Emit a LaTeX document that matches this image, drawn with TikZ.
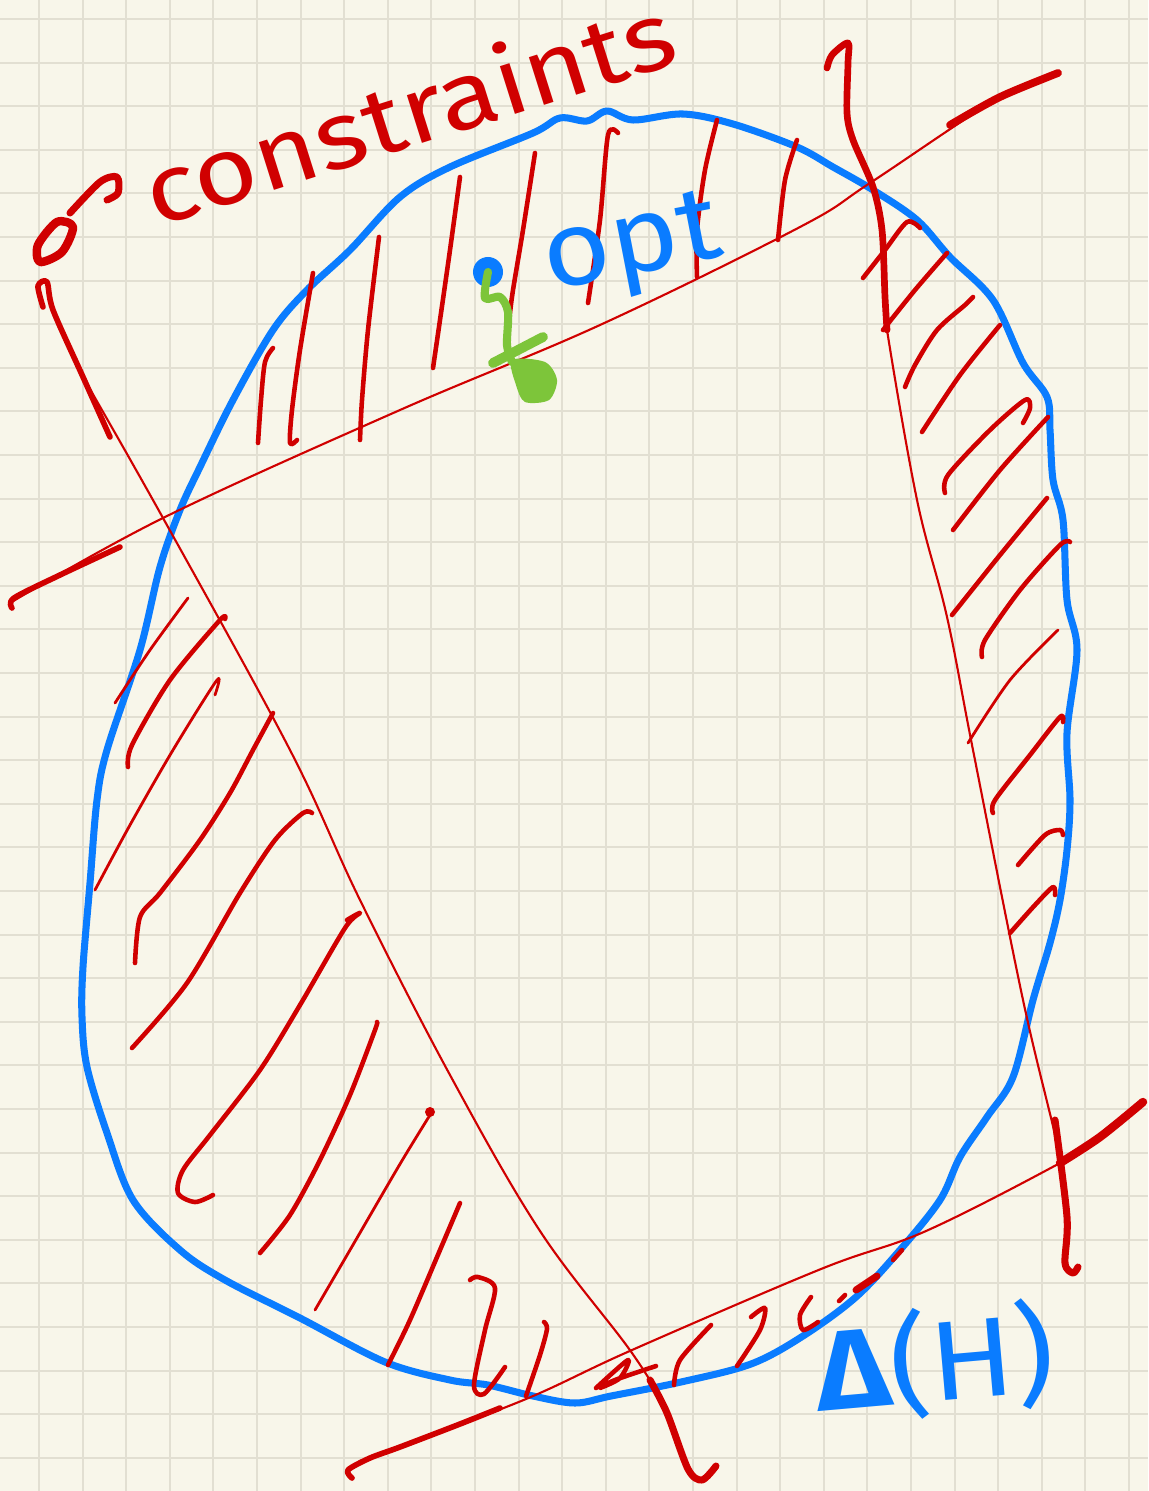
\documentclass[tikz,border=0pt]{standalone}
\usepackage{fontspec}
\newfontfamily\sketchfont{Fira Sans}
\usetikzlibrary{arrows.meta}
\definecolor{paper}{HTML}{F8F6EA}
\definecolor{gridc}{HTML}{E2DFD2}
\definecolor{inkred}{HTML}{D00000}
\definecolor{inkblue}{HTML}{0A7CFF}
\definecolor{inkgreen}{HTML}{7DC53A}

\begin{document}
\begin{tikzpicture}[x=0.01cm, y=-0.01cm,
  gridln/.style={draw=gridc, line width=0.6pt},
  rim/.style={draw=inkblue, line width=2pt, line join=round},
  cons/.style={draw=inkred, line width=0.6pt, line cap=round},
  consthick/.style={draw=inkred, line width=1.6pt, line cap=round, line join=round},
  hatch/.style={draw=inkred, line width=1.3pt, line cap=round, line join=round},
  hatchthin/.style={draw=inkred, line width=0.8pt, line cap=round, line join=round},
  lbl/.style={font=\sketchfont, inner sep=0pt}]
  % paper and squares
  \fill[paper] (0,0) rectangle (1148,1491);
  \useasboundingbox (0,0) rectangle (1148,1491);
  \foreach \i in {0,...,25} \draw[gridln] (39+43.6*\i,0) -- (39+43.6*\i,1491);
  \foreach \j in {0,...,33} \draw[gridln] (0,19+43.6*\j) -- (1148,19+43.6*\j);

  % the region Delta(H)
  \draw[rim] plot[smooth cycle, tension=0.55] coordinates {
    (400,197) (450,167) (533,133) (560,118) (587,121) (607,111) (633,120)
    (683,114) (733,124) (797,147) (833,167) (873,190) (917,220) (950,257)
    (993,300) (1023,363) (1047,397) (1050,430) (1053,480) (1063,520)
    (1067,600) (1077,650) (1067,733) (1070,800) (1067,850) (1060,900)
    (1050,943) (1033,1000) (1013,1077) (987,1117) (960,1157) (940,1200)
    (900,1250) (856,1297) (803,1336) (751,1364) (681,1382) (611,1396)
    (575,1403) (533,1396) (488,1385) (450,1380) (385,1362) (300,1318)
    (225,1280) (180,1250) (133,1200) (107,1133) (87,1067) (82,1017)
    (83,967) (90,883) (97,800) (107,750) (140,650) (160,567) (180,510)
    (200,467) (233,400) (273,330) (307,290) (350,250)};

  % constraint lines
  \draw[cons] plot[smooth, tension=0.6] coordinates {
    (10,603) (163,518) (400,410) (600,325) (800,227) (870,183) (1000,97) (1058,73)};
  \draw[consthick] plot[smooth] coordinates {(12,608) (14,598) (60,575) (120,547)};
  \draw[consthick, line width=2.2pt] plot[smooth] coordinates {(950,125) (1000,97) (1058,73)};

  \draw[cons] plot[smooth, tension=0.6] coordinates {
    (83,377) (163,518) (290,750) (360,900) (450,1075) (540,1231) (632,1353)
    (667,1413) (688,1469)};
  \draw[consthick] plot[smooth] coordinates {
    (43,307) (38,286) (47,282) (53,310) (83,377) (110,437)};
  \draw[consthick, line width=2pt] plot[smooth] coordinates {
    (650,1380) (667,1413) (688,1469) (702,1480) (716,1466)};

  \draw[cons] plot[smooth, tension=0.6] coordinates {
    (885,297) (887,330) (917,500) (947,617) (973,750) (1023,1000) (1060,1157)
    (1067,1217)};
  \draw[consthick, line width=1.9pt] plot[smooth] coordinates {
    (827,68) (832,55) (848,43) (848,63) (847,113) (853,140) (873,187)
    (882,230) (885,297) (887,330)};
  \draw[consthick, line width=2pt] plot[smooth] coordinates {
    (1055,1120) (1067,1217) (1065,1263) (1073,1273) (1078,1267)};

  \draw[cons] plot[smooth, tension=0.6] coordinates {
    (400,1447) (526,1399) (632,1350) (821,1269) (926,1231) (1060,1163) (1100,1137)};
  \draw[consthick] plot[smooth] coordinates {
    (352,1478) (348,1470) (370,1458) (400,1447) (460,1424) (500,1408)};
  \draw[consthick, line width=2.4pt] plot[smooth] coordinates {
    (1060,1163) (1100,1137) (1143,1102)};

  % hatching, top
  \draw[hatch] plot[smooth] coordinates {(273,348) (265,362) (261,400) (258,443)};
  \draw[hatch] plot[smooth] coordinates {(313,273) (300,350) (292,410) (290,443) (297,440)};
  \draw[hatch] plot[smooth] coordinates {(379,237) (368,330) (362,400) (360,440)};
  \draw[hatch] plot[smooth] coordinates {(460,177) (450,250) (440,320) (433,368)};
  \draw[hatch] plot[smooth] coordinates {(535,153) (523,230) (513,290) (510,313)};
  \draw[hatch] plot[smooth] coordinates {(618,133) (608,135) (600,220) (588,303)};
  \draw[hatch] plot[smooth] coordinates {(717,120) (705,170) (697,230) (697,277)};
  \draw[hatch] plot[smooth] coordinates {(797,140) (785,180) (778,240)};

  % hatching, right
  \draw[hatch] plot[smooth] coordinates {(863,278) (885,250) (907,222) (920,228)};
  \draw[hatch] plot[smooth] coordinates {(883,330) (915,290) (947,253)};
  \draw[hatch] plot[smooth] coordinates {(905,387) (915,365) (937,330) (965,305) (973,297)};
  \draw[hatch] plot[smooth] coordinates {(922,432) (960,375) (1000,325)};
  \draw[hatch] plot[smooth] coordinates {(945,493) (948,475) (990,430) (1025,400) (1030,408) (1023,423)};
  \draw[hatch] plot[smooth] coordinates {(953,530) (1000,470) (1048,417)};
  \draw[hatch] plot[smooth] coordinates {(952,615) (1000,555) (1047,498)};
  \draw[hatch] plot[smooth] coordinates {(982,657) (985,640) (1020,590) (1060,545) (1070,542)};
  \draw[hatchthin] plot[smooth] coordinates {(968,743) (1010,680) (1058,630)};
  \draw[hatch] plot[smooth] coordinates {(993,813) (995,800) (1030,755) (1060,717) (1063,722)};
  \draw[hatch] plot[smooth] coordinates {(1018,865) (1045,835) (1060,830) (1063,835)};
  \draw[hatch] plot[smooth] coordinates {(1010,933) (1035,905) (1053,887) (1055,895)};

  % hatching, left and bottom
  \draw[hatchthin] plot[smooth] coordinates {(115,703) (150,650) (188,598)};
  \draw[hatch] plot[smooth] coordinates {(128,767) (132,745) (170,680) (220,620) (225,619)};
  \draw[hatchthin] plot[smooth] coordinates {(95,890) (130,825) (173,750) (217,680) (215,695)};
  \draw[hatch] plot[smooth] coordinates {(135,963) (140,917) (160,893) (200,840) (230,793) (253,750) (273,713)};
  \draw[hatch] plot[smooth] coordinates {(132,1048) (187,983) (240,893) (275,840) (303,813) (312,813)};
  \draw[hatch] plot[smooth] coordinates {(213,1195) (195,1202) (178,1193) (183,1170) (210,1135) (260,1070) (300,1005) (345,928) (360,913) (347,920)};
  \draw[hatch] plot[smooth] coordinates {(260,1253) (290,1215) (320,1160) (350,1095) (375,1030) (377,1022)};
  \draw[hatchthin] plot[smooth] coordinates {(315,1310) (350,1250) (400,1164) (430,1115)};
  \fill[inkred] (430,1112) circle (5);
  \draw[hatch] plot[smooth] coordinates {(388,1365) (410,1320) (440,1250) (460,1203)};
  \draw[hatch] plot[smooth] coordinates {(470,1280) (478,1277) (495,1288) (485,1330) (474,1385) (484,1394) (505,1367)};
  \draw[hatch] plot[smooth] coordinates {(526,1396) (540,1355) (547,1329) (544,1322)};
  \draw[hatch] plot[smooth] coordinates {(596,1388) (628,1360) (620,1378) (600,1388) (615,1380) (656,1366)};
  \draw[hatch] plot[smooth] coordinates {(674,1385) (680,1360) (711,1325)};
  \draw[hatch] plot[smooth] coordinates {(751,1317) (765,1308) (760,1330) (737,1366)};
  \draw[hatch] plot[smooth] coordinates {(811,1297) (800,1315) (803,1330) (818,1322)};
  \draw[hatch] (839,1301) -- (845,1295);
  \draw[hatch, line width=2pt] (856,1290) -- (877,1276);
  \draw[hatch] (893,1260) -- (902,1250);

  % labels
  \draw[hatch, line width=2.4pt] plot[smooth cycle] coordinates {(57,222) (73,227) (62,252) (40,262) (38,245)};
  \draw[hatch, line width=2pt] plot[smooth] coordinates {(70,213) (100,182) (117,177) (118,193) (107,200)};
  \node[lbl, text=inkred, font=\sketchfont\fontsize{27}{30}\selectfont, rotate=17.5, xscale=1.15] (cons) at (408,110) {constraints};
  \node[lbl, text=inkblue, font=\sketchfont\fontsize{30}{34}\selectfont, rotate=11, xscale=1.1] (opt) at (633,250) {opt};
  \node[lbl, text=inkblue, font=\sketchfont\fontsize{32}{36}\selectfont, rotate=5, xscale=1.1] (delta) at (935,1362) {{\bfseries Δ}(H)};

  % optimum and its arrow
  \node[circle, fill=inkblue, minimum size=0.3cm, inner sep=0pt] (dot) at (488,272) {};
  \coordinate (optpt) at (512,362);
  \draw[inkgreen, line width=2.3pt, line cap=round, line join=round]
    plot[smooth] coordinates {(dot.center) (485,298) (500,297) (508,312) (507,345) (optpt)};
  \draw[inkgreen, line width=2.8pt, line cap=round] (493,363) -- (543,337);
  \fill[inkgreen] plot[smooth cycle] coordinates {(512,360) (545,362) (557,380) (549,400) (525,402) (516,385)};
\end{tikzpicture}
\end{document}
